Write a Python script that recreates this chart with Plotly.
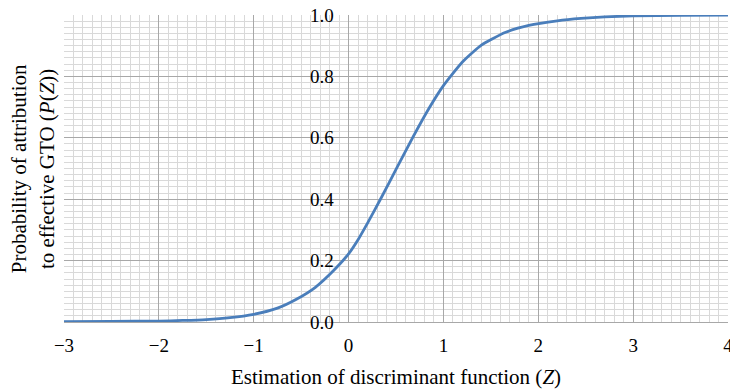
import plotly.graph_objects as go

z_values = [-3.0, -2.5, -2.0, -1.75, -1.5, -1.25, -1.0, -0.75, -0.55, -0.35, -0.15, 0.0,
            0.1, 0.2, 0.35, 0.5, 0.68, 0.85, 1.0, 1.2, 1.4, 1.65, 1.9, 2.2, 2.45, 2.7, 3.0, 3.5, 4.0]
p_values = [0.001, 0.002, 0.003, 0.005, 0.008, 0.014, 0.025, 0.045, 0.074, 0.113, 0.170, 0.222,
            0.268, 0.322, 0.408, 0.497, 0.603, 0.697, 0.770, 0.847, 0.902, 0.943, 0.966, 0.981, 0.989, 0.994, 0.997, 0.999, 1.0]

x_ticks = [-3, -2, -1, 0, 1, 2, 3, 4]
y_ticks = [0.0, 0.2, 0.4, 0.6, 0.8, 1.0]

FONT = "Liberation Serif, Times New Roman, serif"
MAJOR = "#a8a8a8"
MINOR = "#d9d9d9"

fig = go.Figure()
fig.add_trace(go.Scatter(x=z_values, y=p_values, mode="lines",
                         line=dict(color="#4a7ebb", width=2.8, shape="spline", smoothing=0.5),
                         showlegend=False, hoverinfo="skip"))

fig.update_layout(
    width=730, height=389,
    margin=dict(l=64, r=2, t=15, b=67),
    paper_bgcolor="white", plot_bgcolor="white",
    font=dict(family=FONT, size=19, color="black"),
    xaxis=dict(range=[-3, 4], tickvals=x_ticks, ticks="outside", ticklen=6, tickcolor="rgba(0,0,0,0)",
               showgrid=True, gridcolor=MAJOR, gridwidth=1, zeroline=False, automargin=False,
               showline=True, linecolor=MAJOR, linewidth=1, ticklabeloverflow="allow",
               minor=dict(dtick=0.1, showgrid=True, gridcolor=MINOR, gridwidth=1),
               title=dict(text="Estimation of discriminant function (<i>Z</i>)", standoff=15,
                          font=dict(family=FONT, size=21)),
               tickfont=dict(family=FONT, size=19)),
    yaxis=dict(range=[0, 1], tickvals=y_ticks, tickformat=".1f", anchor="free", position=3/7,
               ticks="outside", ticklen=11, tickcolor="rgba(0,0,0,0)",
               showgrid=True, gridcolor=MAJOR, gridwidth=1, zeroline=False, automargin=False,
               showline=False, ticklabeloverflow="allow",
               minor=dict(dtick=0.02, showgrid=True, gridcolor=MINOR, gridwidth=1),
               tickfont=dict(family=FONT, size=19)),
    annotations=[dict(text="Probability of attribution<br>to effective GTO (<i>P</i>(<i>Z</i>))",
                      xref="paper", yref="paper", x=-0.047, y=0.5, xanchor="center", yanchor="middle",
                      textangle=-90, showarrow=False, font=dict(family=FONT, size=21))],
)

fig.write_html("out.html", config={"displayModeBar": False},
               post_script="document.body.style.margin='0';document.body.style.overflow='hidden';")
